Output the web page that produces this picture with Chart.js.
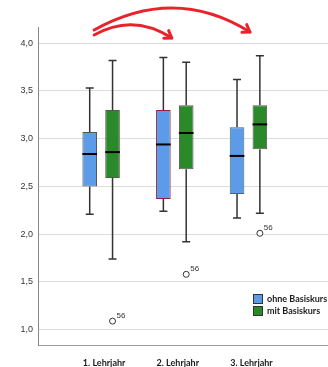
<!DOCTYPE html>
<html>
<head>
<meta charset="utf-8">
<script src="https://cdn.jsdelivr.net/npm/chart.js@4/dist/chart.umd.min.js"></script>
<style>
  html, body { margin: 0; padding: 0; background: #fff; }
  #wrap { width: 328px; height: 367px; }
</style>
</head>
<body>
<div id="wrap"><canvas id="boxChart"></canvas></div>
<script>
// Kategorien und Achsenbeschriftungen
const categories = ['1. Lehrjahr', '2. Lehrjahr', '3. Lehrjahr'];
const seriesNames = ['ohne Basiskurs', 'mit Basiskurs'];
const yTicks = [1.0, 1.5, 2.0, 2.5, 3.0, 3.5, 4.0];

// Boxplot-Kennwerte: ohne Basiskurs
const ohneMin = [2.21, 2.24, 2.17];
const ohneQ1 = [2.50, 2.37, 2.42];
const ohneMedian = [2.84, 2.94, 2.82];
const ohneQ3 = [3.07, 3.30, 3.12];
const ohneMax = [3.53, 3.85, 3.62];
const ohneOutliers = [null, null, null];

// Boxplot-Kennwerte: mit Basiskurs
const mitMin = [1.74, 1.92, 2.22];
const mitQ1 = [2.59, 2.68, 2.89];
const mitMedian = [2.86, 3.06, 3.15];
const mitQ3 = [3.30, 3.35, 3.35];
const mitMax = [3.82, 3.80, 3.87];
const mitOutliers = [1.09, 1.58, 2.01];
const outlierLabel = '56';

const stats = [
    { min: ohneMin, med: ohneMedian, max: ohneMax, out: ohneOutliers },
    { min: mitMin, med: mitMedian, max: mitMax, out: mitOutliers }
];

const fmt = (v) => v.toFixed(1).replace('.', ',');

// Whisker, Median und Ausreisser zeichnen
const boxExtras = {
    id: 'boxExtras',
    afterDatasetsDraw(chart) {
        const ctx = chart.ctx;
        const y = chart.scales.y;
        stats.forEach((s, di) => {
            const meta = chart.getDatasetMeta(di);
            meta.data.forEach((bar, i) => {
                const x = bar.x;
                const half = bar.width / 2;
                ctx.save();
                ctx.strokeStyle = '#333';
                ctx.lineWidth = 1.5;
                // Whisker oben
                ctx.beginPath();
                ctx.moveTo(x, y.getPixelForValue(s.max[i]));
                ctx.lineTo(x, bar.y);
                ctx.moveTo(x - 4, y.getPixelForValue(s.max[i]));
                ctx.lineTo(x + 4, y.getPixelForValue(s.max[i]));
                // Whisker unten
                ctx.moveTo(x, bar.base);
                ctx.lineTo(x, y.getPixelForValue(s.min[i]));
                ctx.moveTo(x - 4, y.getPixelForValue(s.min[i]));
                ctx.lineTo(x + 4, y.getPixelForValue(s.min[i]));
                ctx.stroke();
                // Median
                ctx.strokeStyle = '#000';
                ctx.lineWidth = 2;
                ctx.beginPath();
                ctx.moveTo(x - half, y.getPixelForValue(s.med[i]));
                ctx.lineTo(x + half, y.getPixelForValue(s.med[i]));
                ctx.stroke();
                // Ausreisser
                if (s.out[i] !== null) {
                    const oy = y.getPixelForValue(s.out[i]);
                    ctx.fillStyle = '#fff';
                    ctx.strokeStyle = '#333';
                    ctx.lineWidth = 1;
                    ctx.beginPath();
                    ctx.arc(x, oy, 3, 0, Math.PI * 2);
                    ctx.fill();
                    ctx.stroke();
                    ctx.fillStyle = '#333';
                    ctx.font = '8px "Liberation Sans", Arial, sans-serif';
                    ctx.textBaseline = 'alphabetic';
                    ctx.textAlign = 'left';
                    ctx.fillText(outlierLabel, x + 4, oy - 3);
                }
                ctx.restore();
            });
        });
    },
    afterDraw(chart) {
        const ctx = chart.ctx;
        const area = chart.chartArea;
        const xs = chart.scales.x;
        const c1 = xs.getPixelForValue(1);
        const c2 = xs.getPixelForValue(2);
        const c3 = xs.getPixelForValue(3);
        const top = area.top;

        // Legende
        ctx.save();
        const lx = area.right - 75;
        const ly = area.bottom - 51;
        chart.data.datasets.forEach((ds, i) => {
            ctx.fillStyle = ds.backgroundColor;
            ctx.strokeStyle = '#333';
            ctx.lineWidth = 1;
            ctx.fillRect(lx, ly + i * 12, 9, 9);
            ctx.strokeRect(lx + 0.5, ly + i * 12 + 0.5, 9, 9);
            ctx.fillStyle = '#1a1a1a';
            ctx.font = 'bold 9px Lato, "Open Sans", sans-serif';
            ctx.textBaseline = 'middle';
            ctx.textAlign = 'left';
            ctx.fillText(ds.label, lx + 14, ly + i * 12 + 5);
        });
        ctx.restore();

        // Rote Pfeile
        const arrow = (sx, sy, cx, cy, ex, ey) => {
            ctx.beginPath();
            ctx.moveTo(sx, sy);
            ctx.quadraticCurveTo(cx, cy, ex, ey);
            ctx.stroke();
            const ang = Math.atan2(ey - cy, ex - cx);
            const len = 8;
            ctx.beginPath();
            ctx.moveTo(ex - len * Math.cos(ang - 0.6), ey - len * Math.sin(ang - 0.6));
            ctx.lineTo(ex, ey);
            ctx.lineTo(ex - len * Math.cos(ang + 0.6), ey - len * Math.sin(ang + 0.6));
            ctx.stroke();
        };
        ctx.save();
        ctx.strokeStyle = '#e8232b';
        ctx.lineWidth = 3;
        ctx.lineCap = 'round';
        ctx.lineJoin = 'round';
        arrow(c1 - 7, top + 8, (c1 + c2) / 2 - 5, top - 14, c2 - 3, top + 11);
        arrow(c1 - 7, top + 3, c2, top - 42, c3 + 1.5, top + 5);
        ctx.restore();
    }
};

const ctx = document.getElementById('boxChart').getContext('2d');
const boxChart = new Chart(ctx, {
    type: 'bar',
    data: {
        datasets: [{
            label: seriesNames[0],
            data: categories.map((c, i) => ({ x: i + 1, y: [ohneQ1[i], ohneQ3[i]] })),
            backgroundColor: '#5b9be8',
            borderColor: ['#555', '#8e1d3f', '#4a6670'],
            borderWidth: 1,
            borderSkipped: false
        }, {
            label: seriesNames[1],
            data: categories.map((c, i) => ({ x: i + 1, y: [mitQ1[i], mitQ3[i]] })),
            backgroundColor: '#2a8a2a',
            borderColor: '#555',
            borderWidth: 1,
            borderSkipped: false
        }]
    },
    options: {
        responsive: true,
        maintainAspectRatio: false,
        animation: false,
        layout: { padding: { top: 27, left: 0, right: 0, bottom: 0 } },
        categoryPercentage: 0.62,
        barPercentage: 0.64,
        plugins: {
            legend: { display: false },
            tooltip: { enabled: false }
        },
        scales: {
            x: {
                type: 'linear',
                min: 0.143,
                max: 4.08,
                offset: false,
                grid: { display: false, offset: false },
                border: { display: true, color: '#999', width: 1 },
                afterBuildTicks: (scale) => {
                    scale.ticks = categories.map((c, i) => ({ value: i + 1 }));
                },
                afterFit: (scale) => { scale.height = 22; },
                ticks: {
                    padding: 5,
                    labelOffset: 3,
                    color: '#1a1a1a',
                    font: { family: 'Lato, "Open Sans", sans-serif', size: 9, weight: 'bold' },
                    callback: (v) => categories[Math.round(v) - 1] || ''
                }
            },
            y: {
                min: 0.84,
                max: 4.17,
                grid: { color: '#dcdcdc', lineWidth: 1, drawTicks: false },
                border: { display: true, color: '#888', width: 1 },
                afterBuildTicks: (scale) => {
                    scale.ticks = yTicks.map((v) => ({ value: v }));
                },
                afterFit: (scale) => { scale.width = 38; },
                ticks: {
                    padding: 5,
                    color: '#333',
                    font: { family: '"Liberation Sans", Arial, sans-serif', size: 9 },
                    callback: (v) => fmt(v)
                }
            }
        }
    },
    plugins: [boxExtras]
});
</script>
</body>
</html>
